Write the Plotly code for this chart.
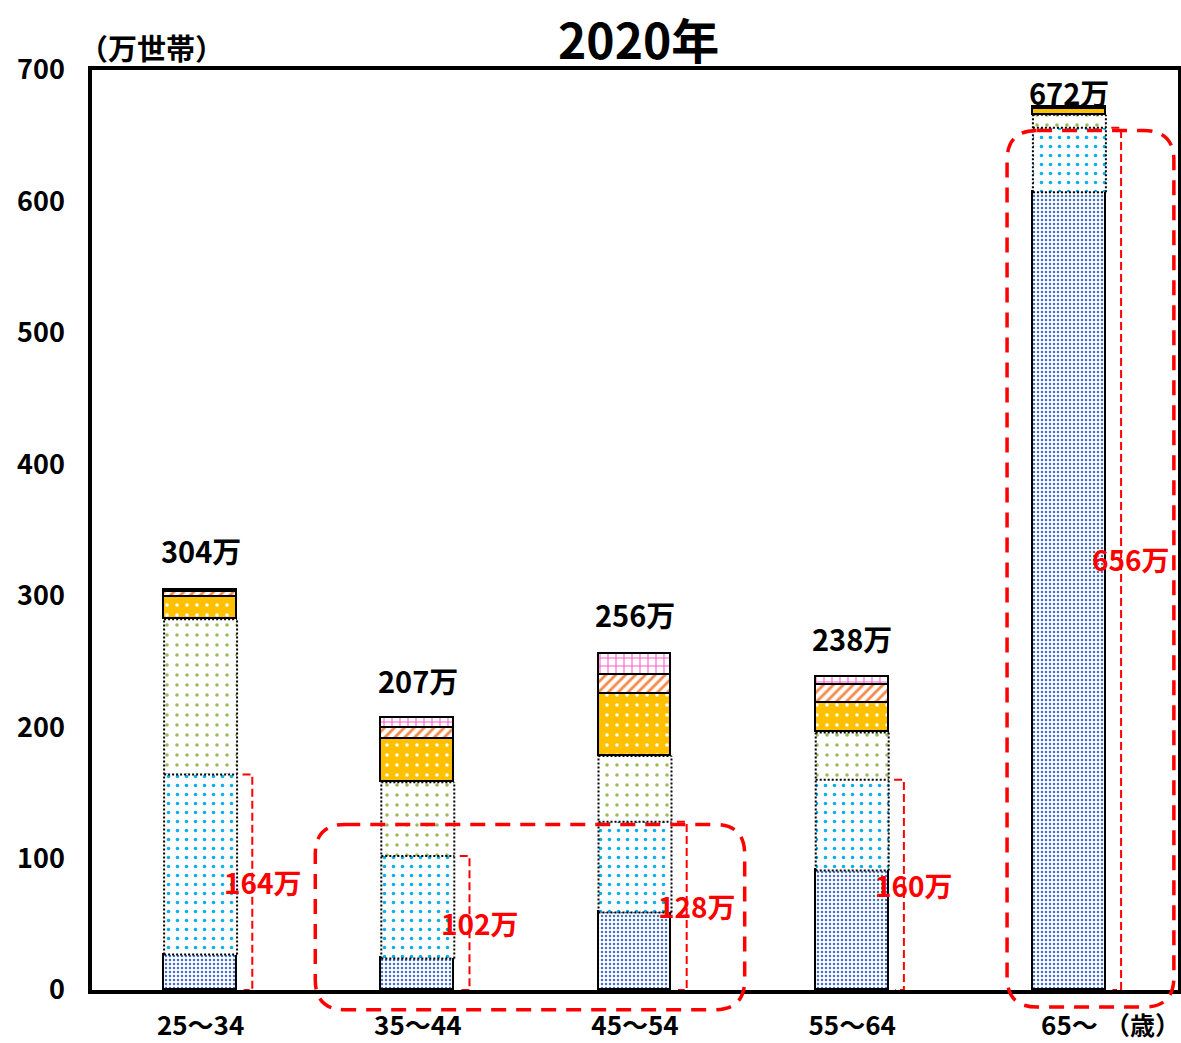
import plotly.graph_objects as go

categories = ["25～34", "35～44", "45～54", "55～64", "65～"]
seg_darkblue = [27, 24, 59, 91, 607]
seg_lightblue = [137, 78, 69, 69, 49]
seg_green = [118, 56, 50, 36, 10]
seg_yellow = [17, 33, 47, 22, 4]
seg_hatch = [4, 8, 15, 14, 1]
seg_pink = [1, 8, 16, 6, 1]
total_labels = [304, 207, 256, 238, 672]
sub_labels = [164, 102, 128, 160, 656]
yticks = [0, 100, 200, 300, 400, 500, 600, 700]

FONT = "Noto Sans CJK JP"
xs = list(range(len(categories)))
BW = 0.336

fig = go.Figure()

def add_seg(vals, bg, fg, shape, size, solidity, lc, lw):
    fig.add_trace(go.Bar(
        x=xs, y=vals, width=BW,
        marker=dict(
            color=bg,
            pattern=dict(shape=shape, fillmode="replace", bgcolor=bg, fgcolor=fg,
                         size=size, solidity=solidity),
            line=dict(color=lc, width=lw),
        ),
        hoverinfo="skip", showlegend=False,
    ))

add_seg(seg_darkblue, "white", "#4472C4", ".", 4, 0.3, "black", 1.6)
add_seg(seg_lightblue, "white", "#00B0F0", ".", 9, 0.12, "rgba(0,0,0,0)", 0)
add_seg(seg_green, "white", "#9BBB59", ".", 10, 0.1, "rgba(0,0,0,0)", 0)
add_seg(seg_yellow, "#FFC000", "white", ".", 10, 0.1, "black", 1.8)
add_seg(seg_hatch, "white", "#F4894A", "/", 7, 0.4, "black", 1.8)
add_seg(seg_pink, "white", "#FF5BCB", "+", 8, 0.25, "black", 1.8)

fig.update_layout(barmode="stack")

# dotted outlines of the light-blue and green segments (from the data)
ox, oy = [], []
for i in range(len(xs)):
    c1 = seg_darkblue[i]
    c2 = c1 + seg_lightblue[i]
    c3 = c2 + seg_green[i]
    l, r = xs[i] - BW / 2, xs[i] + BW / 2
    ox += [l, l, None, r, r, None, l, r, None, l, r, None, l, r, None]
    oy += [c1, c3, None, c1, c3, None, c1, c1, None, c2, c2, None, c3, c3, None]
fig.add_trace(go.Scatter(x=ox, y=oy, mode="lines", hoverinfo="skip", showlegend=False,
                         line=dict(color="black", width=2, dash="2px,2px")))

# value labels above bars
label_shift = [40, 38, 40, 39, 15]
for i, t in enumerate(total_labels):
    fig.add_annotation(x=xs[i], y=t, text=f"{t}万", showarrow=False,
                       xanchor="center", yanchor="middle", yshift=label_shift[i],
                       font=dict(family=FONT, size=29, color="black", weight="bold"))

# red brackets and subtotal labels
for i, s in enumerate(sub_labels):
    e = xs[i] + BW / 2
    fig.add_shape(type="path",
                  path=f"M {e+0.025} {s} L {e+0.07} {s} L {e+0.07} 0 L {e+0.03} 0",
                  xref="x", yref="y",
                  line=dict(color="red", width=2, dash="8px,4px"))
    fig.add_annotation(x=xs[i] + 0.285, y=s / 2, text=f"{s}万", showarrow=False,
                       xanchor="center",
                       font=dict(family=FONT, size=28, color="red", weight="bold"))

# rounded dashed highlight boxes (domain coords)
PW, PH = 1086.0, 920.0
def dx(v):
    return (v + 0.5) / 5
def dy(v):
    return v / 700

def rrect(x0, x1, y0, y1, r=30):
    X0, X1, Y0, Y1 = dx(x0), dx(x1), dy(y0), dy(y1)
    rx, ry = r / PW, r / PH
    return (f"M {X0+rx} {Y1} L {X1-rx} {Y1} Q {X1} {Y1} {X1} {Y1-ry} "
            f"L {X1} {Y0+ry} Q {X1} {Y0} {X1-rx} {Y0} "
            f"L {X0+rx} {Y0} Q {X0} {Y0} {X0} {Y0+ry} "
            f"L {X0} {Y1-ry} Q {X0} {Y1} {X0+rx} {Y1} Z")

for (x0, x1, y0, y1) in [(0.528, 2.505, -15, 126), (3.713, 4.481, -13, 654)]:
    fig.add_shape(type="path", path=rrect(x0, x1, y0, y1),
                  xref="x domain", yref="y domain",
                  line=dict(color="red", width=3.5, dash="15px,10px"))

fig.add_annotation(x=(151 - 92) / PW, y=(990 - 47) / PH, xref="paper", yref="paper",
                   text="（万世帯）", showarrow=False, xanchor="center", yanchor="middle",
                   font=dict(family=FONT, size=29, color="black", weight="bold"))
fig.add_annotation(x=(1142 - 92) / PW, y=-(1024 - 990) / PH, xref="paper", yref="paper",
                   text="（歳）", showarrow=False, xanchor="center", yanchor="middle",
                   font=dict(family=FONT, size=25, color="black", weight="bold"))
fig.add_annotation(x=(638 - 92) / PW, y=(990 - 38) / PH, xref="paper", yref="paper",
                   text="2020年", showarrow=False, xanchor="center", yanchor="middle",
                   font=dict(family=FONT, size=48, color="black", weight="bold"))

fig.update_xaxes(range=[-0.5, 4.5], tickvals=xs, ticktext=categories, automargin=False,
                 showline=True, mirror=True, linecolor="black", linewidth=3.5,
                 ticks="", showgrid=False, zeroline=False, ticklabelstandoff=10,
                 tickfont=dict(family=FONT, size=26, color="black", weight="bold"))
fig.update_yaxes(range=[0, 700], tickvals=yticks, automargin=False,
                 showline=True, mirror=True, linecolor="black", linewidth=3.5,
                 ticks="", showgrid=False, zeroline=False, ticklabelstandoff=18,
                 tickfont=dict(family=FONT, size=27, color="black", weight="bold"))

fig.update_layout(width=1181, height=1043, margin=dict(l=92, r=3, t=70, b=53, autoexpand=False),
                  plot_bgcolor="white", paper_bgcolor="white", bargap=0)

fig.write_html("out.html", config={"displayModeBar": False},
               post_script="document.body.style.margin='0';document.body.style.overflow='hidden';")
